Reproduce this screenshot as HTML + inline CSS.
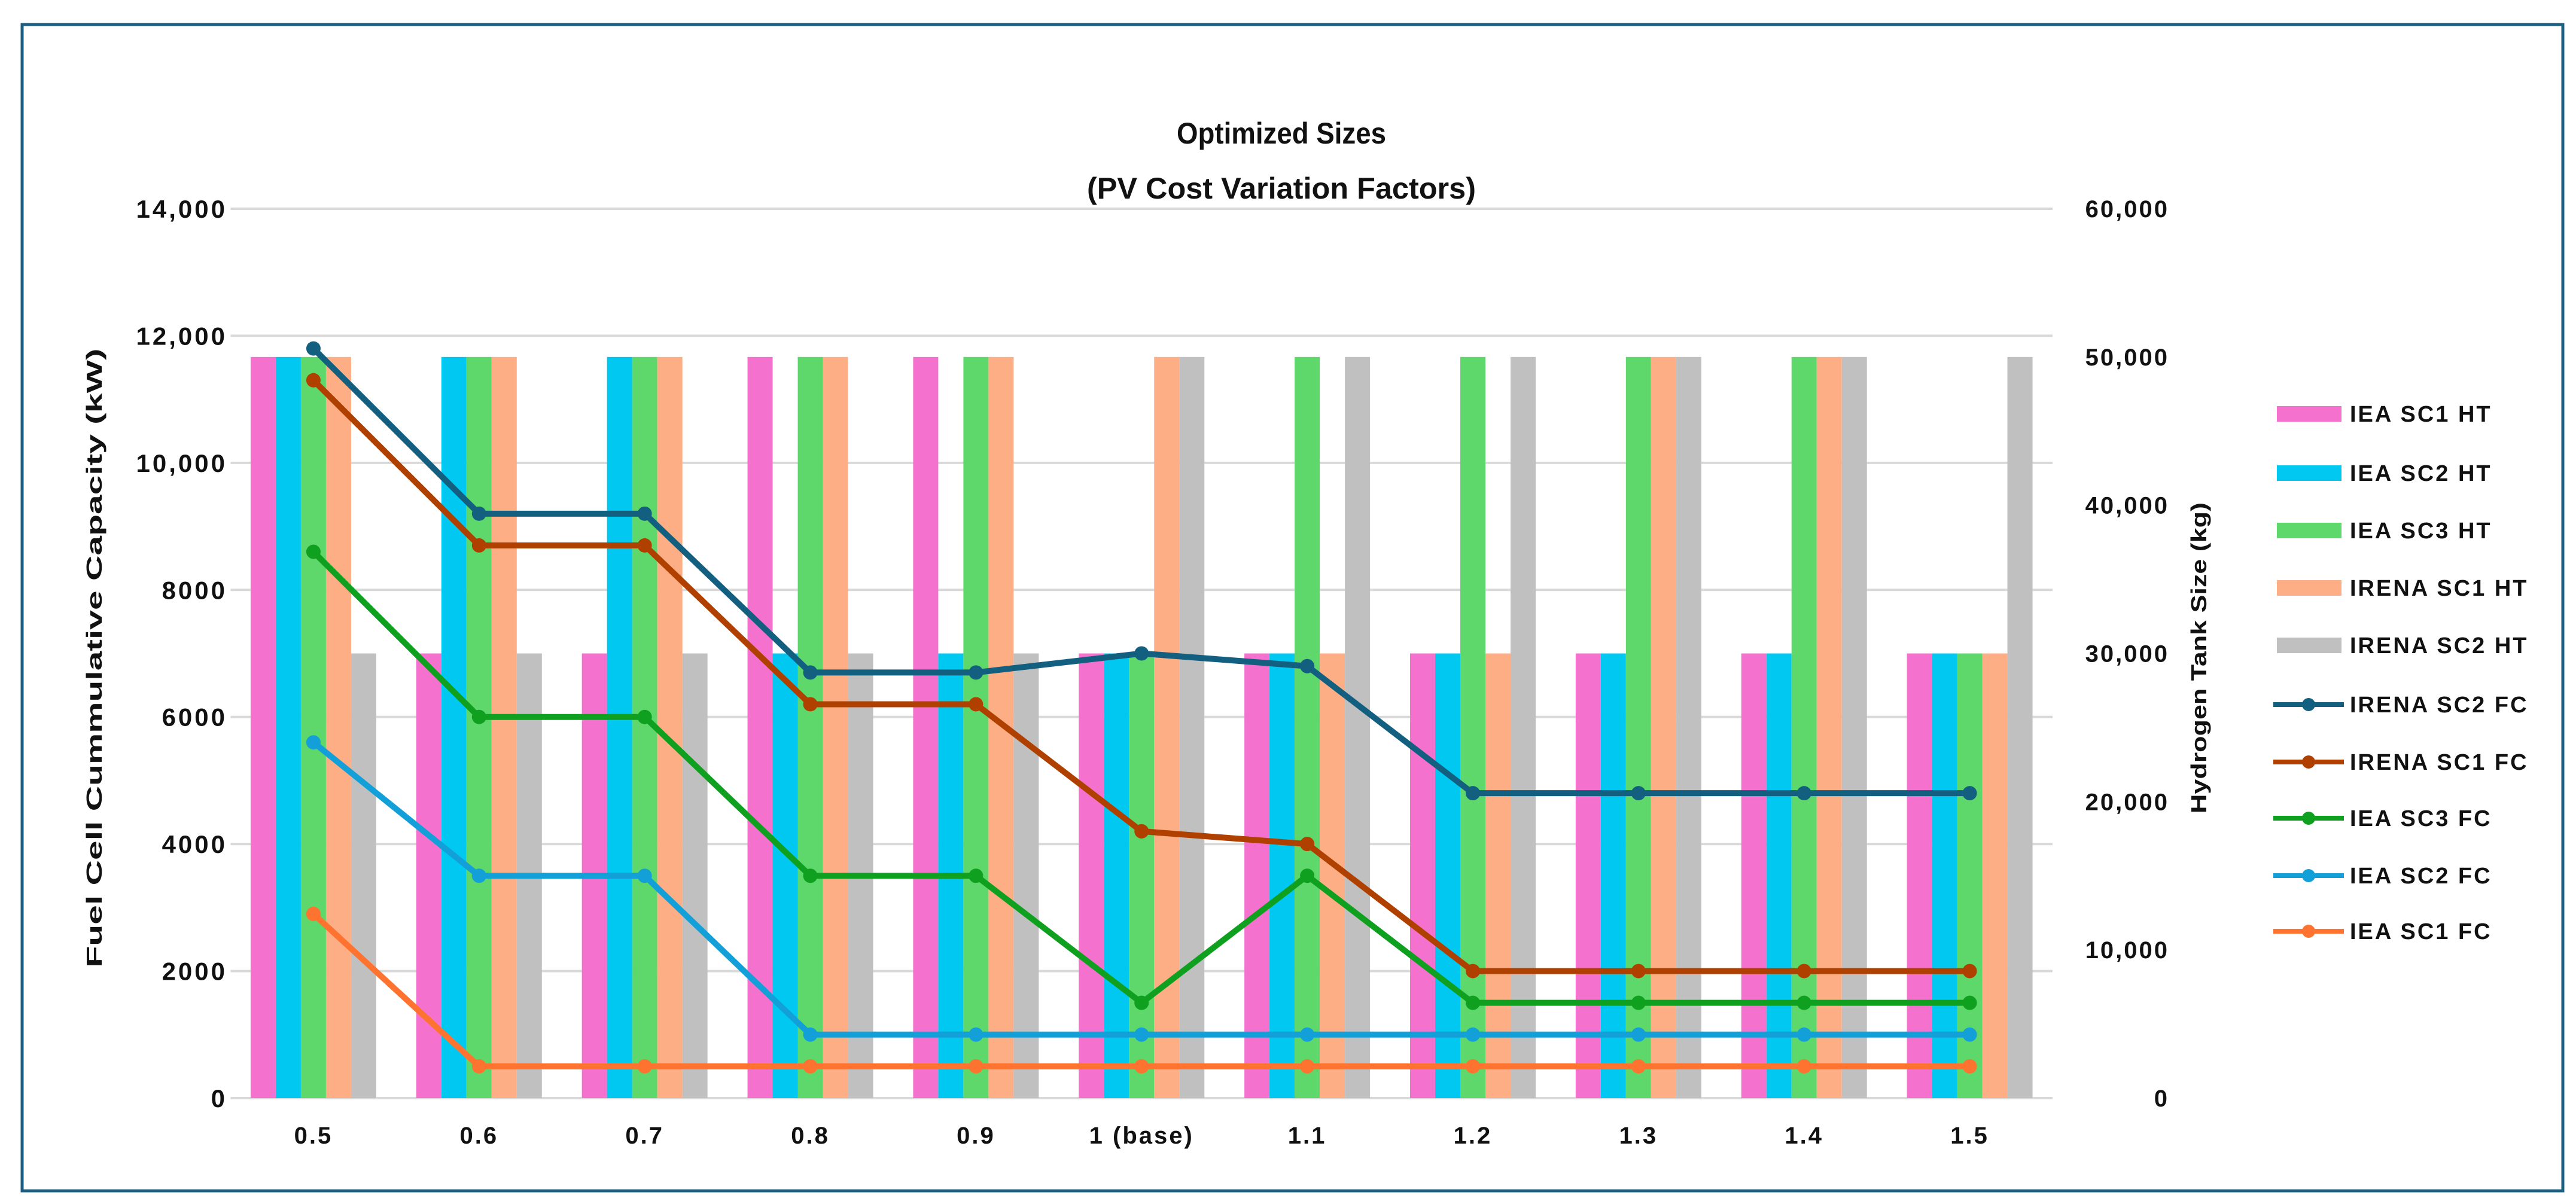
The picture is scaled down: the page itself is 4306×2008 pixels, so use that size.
<!DOCTYPE html>
<html><head><meta charset="utf-8"><style>
html,body{margin:0;padding:0;background:#fff}
svg{display:block}
text{font-family:"Liberation Sans",sans-serif;font-weight:bold;fill:#111}
</style></head><body>
<svg id="chart" width="4306" height="2008" viewBox="0 0 4306 2008" xmlns="http://www.w3.org/2000/svg">
<rect x="37" y="41" width="4247" height="1950" fill="#fff" stroke="#1c5f80" stroke-width="5"/>
<text x="2142" y="240" font-size="50" text-anchor="middle" textLength="350" lengthAdjust="spacingAndGlyphs">Optimized Sizes</text>
<text x="2142" y="332" font-size="50" text-anchor="middle" textLength="650" lengthAdjust="spacingAndGlyphs">(PV Cost Variation Factors)</text>
<g id="grid"></g>
<g id="bars"></g>
<g id="lines"></g>
<g id="axes"></g>
<text transform="translate(170,1100) rotate(-90)" font-size="36" text-anchor="middle" textLength="1035" lengthAdjust="spacingAndGlyphs">Fuel Cell Cummulative  Capacity  (kW)</text>
<text transform="translate(3688,1100) rotate(-90)" font-size="36" text-anchor="middle" textLength="520" lengthAdjust="spacingAndGlyphs">Hydrogen Tank Size (kg)</text>
<g id="legend"></g>
</svg>
<script>
const categories = ["0.5","0.6","0.7","0.8","0.9","1 (base)","1.1","1.2","1.3","1.4","1.5"];
const leftTicks = [0,2000,4000,6000,8000,10000,12000,14000];
const leftTickLabels = ["0","2000","4000","6000","8000","10,000","12,000","14,000"];
const rightTickLabels = ["0","10,000","20,000","30,000","40,000","50,000","60,000"];
const barNames = ["IEA SC1 HT","IEA SC2 HT","IEA SC3 HT","IRENA SC1 HT","IRENA SC2 HT"];
const ieaSc1Ht   = [50000,30000,30000,50000,50000,30000,30000,30000,30000,30000,30000];
const ieaSc2Ht   = [50000,50000,50000,30000,30000,30000,30000,30000,30000,30000,30000];
const ieaSc3Ht   = [50000,50000,50000,50000,50000,30000,50000,50000,50000,50000,30000];
const irenaSc1Ht = [50000,50000,50000,50000,50000,50000,30000,30000,50000,50000,30000];
const irenaSc2Ht = [30000,30000,30000,30000,30000,50000,50000,50000,50000,50000,50000];
const lineNames = ["IRENA SC2 FC","IRENA SC1 FC","IEA SC3 FC","IEA SC2 FC","IEA SC1 FC"];
const irenaSc2Fc = [11800,9200,9200,6700,6700,7000,6800,4800,4800,4800,4800];
const irenaSc1Fc = [11300,8700,8700,6200,6200,4200,4000,2000,2000,2000,2000];
const ieaSc3Fc   = [8600,6000,6000,3500,3500,1500,3500,1500,1500,1500,1500];
const ieaSc2Fc   = [5600,3500,3500,1000,1000,1000,1000,1000,1000,1000,1000];
const ieaSc1Fc   = [2900,500,500,500,500,500,500,500,500,500,500];

const NS="http://www.w3.org/2000/svg";
const PL=385.5, PR=3431, PT=349, PB=1836;
const catW=(PR-PL)/categories.length;
const yL=v=>PB-(v/14000)*(PB-PT);
const yR=v=>PB-(v/60000)*(PB-PT);
const xC=i=>PL+catW*(i+0.5);
function mk(tag,attrs,parent){const e=document.createElementNS(NS,tag);for(const k in attrs)e.setAttribute(k,attrs[k]);parent.appendChild(e);return e;}
const grid=document.getElementById('grid'),bars=document.getElementById('bars'),lines=document.getElementById('lines'),axes=document.getElementById('axes'),legend=document.getElementById('legend');
leftTicks.forEach((v,i)=>{
  const l=mk('line',{x1:PL,x2:PR,y1:yL(v),y2:yL(v),stroke:'#d9d9d9','stroke-width':4},grid);
  
  
  const t=mk('text',{x:380,y:yL(v)+15,'font-size':42,'text-anchor':'end','letter-spacing':4},axes);
  t.textContent=leftTickLabels[i];
  
  
});
rightTickLabels.forEach((lab,i)=>{
  const t=mk('text',{x:3626,y:yR(i*10000)+14,'font-size':40,'text-anchor':'end','letter-spacing':3},axes);
  t.textContent=lab;
  
  
});
categories.forEach((c,i)=>{
  const t=mk('text',{x:xC(i),y:1912,'font-size':40,'text-anchor':'middle','letter-spacing':3},axes);
  t.textContent=c;
  
  
});
const barSeries=[ieaSc1Ht,ieaSc2Ht,ieaSc3Ht,irenaSc1Ht,irenaSc2Ht];
const barColors=['#f472ce','#00c8f0','#5ed86a','#fdae85','#c0c0c0'];
const bw=42;
barSeries.forEach((s,k)=>{
  s.forEach((v,i)=>{
    const x=xC(i)-2.5*bw+k*bw;
    const r=mk('rect',{x:x,y:yR(v),width:bw,height:PB-yR(v),fill:barColors[k]},bars);
    
    
  });
});
const lineSeries=[irenaSc2Fc,irenaSc1Fc,ieaSc3Fc,ieaSc2Fc,ieaSc1Fc];
const lineColors=['#135f80','#b04000','#10a020','#13a0d8','#ff7330'];
for(let k=lineSeries.length-1;k>=0;k--){
  const s=lineSeries[k];
  const pts=s.map((v,i)=>xC(i)+','+yL(v)).join(' ');
  const p=mk('polyline',{points:pts,fill:'none',stroke:lineColors[k],'stroke-width':10,'stroke-linejoin':'round'},lines);
  
  
  s.forEach((v,i)=>{
    const c=mk('circle',{cx:xC(i),cy:yL(v),r:12,fill:lineColors[k]},lines);
    
    
  });
}
const legY=[692,791,887,983,1079,1178,1274,1368,1464,1557];
barNames.forEach((n,k)=>{
  const g=mk('g',{},legend);
  
  
  mk('rect',{x:3806,y:legY[k]-13,width:108,height:26,fill:barColors[k]},g);
  const t=mk('text',{x:3928,y:legY[k]+13,'font-size':38,'letter-spacing':3},g);t.textContent=n;
});
lineNames.forEach((n,k)=>{
  const g=mk('g',{},legend);
  
  
  const y=legY[k+5];
  mk('line',{x1:3800,x2:3918,y1:y,y2:y,stroke:lineColors[k],'stroke-width':8},g);
  mk('circle',{cx:3859,cy:y,r:11,fill:lineColors[k]},g);
  const t=mk('text',{x:3928,y:y+13,'font-size':38,'letter-spacing':3},g);t.textContent=n;
});
</script>
</body></html>
